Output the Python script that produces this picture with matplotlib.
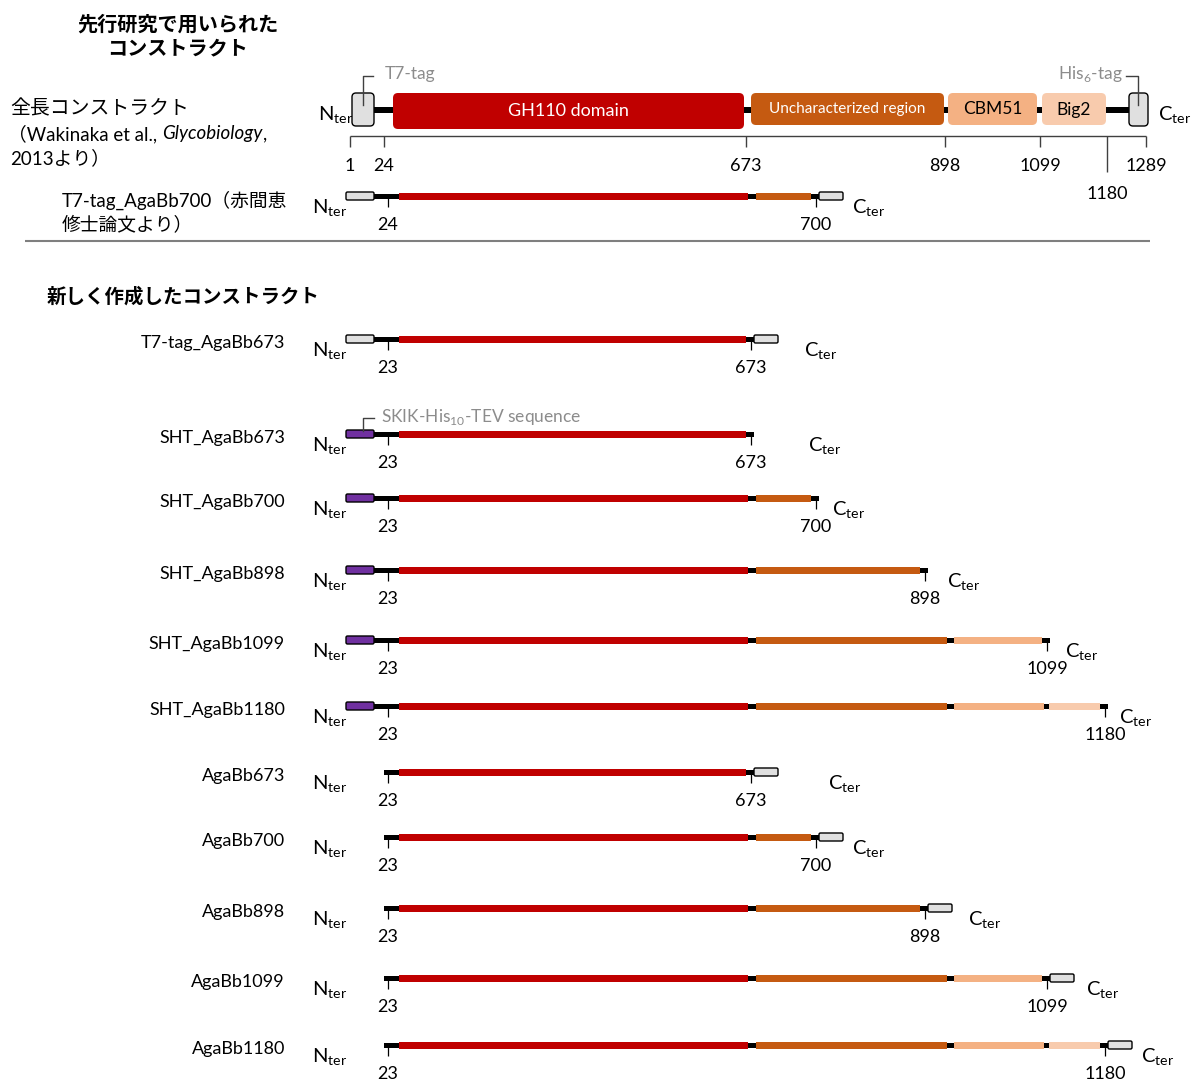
import numpy as np
import matplotlib.pyplot as plt
from matplotlib.patches import FancyBboxPatch

plt.rcParams['font.family'] = ['Lato', 'Noto Sans CJK JP']
plt.rcParams['mathtext.fontset'] = 'custom'
plt.rcParams['mathtext.rm'] = 'Lato'

# ---- data ----
domain_names = ['GH110 domain', 'Uncharacterized region', 'CBM51', 'Big2']
domain_colors = ['#C00000', '#C55A11', '#F4B183', '#F8CBAD']
domain_text_colors = ['white', 'white', 'black', 'black']

full_ticks = [1, 24, 673, 898, 1099, 1180, 1289]

prev_name = 'T7-tag_AgaBb700（赤間恵\n修士論文より）'
prev_start, prev_end = 24, 700

construct_names = ['T7-tag_AgaBb673', 'SHT_AgaBb673', 'SHT_AgaBb700', 'SHT_AgaBb898',
                   'SHT_AgaBb1099', 'SHT_AgaBb1180', 'AgaBb673', 'AgaBb700',
                   'AgaBb898', 'AgaBb1099', 'AgaBb1180']
construct_start = [23] * 11
construct_end = [673, 673, 700, 898, 1099, 1180, 673, 700, 898, 1099, 1180]
construct_ntag = ['T7', 'SHT', 'SHT', 'SHT', 'SHT', 'SHT', None, None, None, None, None]
construct_ctag = [True, False, False, False, False, False, True, True, True, True, True]

# ---- layout (schematic positions, pixels) ----
W, H = 1192, 1082
full_tick_x = [350, 384, 746, 945, 1040, 1107, 1146]
full_domain_x = [(393, 744), (751, 944), (948, 1037), (1042, 1106)]
row_domain_x = [(399, 748), (756, 947), (954, 1044), (1049, 1102)]
res_x = {23: 388, 24: 388, 673: 751, 700: 816, 898: 925, 1099: 1047, 1180: 1105}
row_y = [339, 434, 498, 570, 640, 706, 772, 837, 908, 978, 1045]
cter_x = [804, 808, 832, 947, 1065, 1119, 828, 852, 968, 1086, 1141]
tag_colors = {'T7': '#E0E0E0', 'SHT': '#7030A0'}
GRAY = '#8C8C8C'

fig = plt.figure(figsize=(W / 100, H / 100), dpi=100)
ax = fig.add_axes([0, 0, 1, 1])
ax.set_xlim(0, W)
ax.set_ylim(H, 0)
ax.axis('off')


def rbox(x0, x1, y0, y1, fc, r=4, lw=1.0, ec='black'):
    p = FancyBboxPatch((x0, y0), x1 - x0, y1 - y0,
                       boxstyle='round,pad=0,rounding_size=%g' % r,
                       fc=fc, ec=ec, lw=lw, zorder=3)
    ax.add_patch(p)


def term(x, y, letter):
    ax.text(x, y, letter + r'$_\mathregular{ter}$', fontsize=14.5, va='baseline', ha='left')


def draw_row(y, start, end, ntag, ctag, cx, start_label=None):
    x0 = res_x[start]
    x1 = res_x[end]
    if ntag:
        rbox(346, 374, y - 4, y + 4, tag_colors[ntag], r=1.5, lw=1.0)
        bb0 = 374
    else:
        bb0 = 384
    ax.barh(y, x1 + 3 - bb0, left=bb0, height=5, color='black', zorder=1)
    for (d0, d1), c in zip(row_domain_x, domain_colors):
        d1c = min(d1, x1 - 5)
        if d1c > d0:
            ax.barh(y, d1c - d0, left=d0, height=7, color=c, zorder=2)
    if ctag:
        rbox(x1 + 3, x1 + 27, y - 4, y + 4, '#E0E0E0', r=1.5, lw=1.0)
    for xx, lab in [(x0, start_label or str(start)), (x1, str(end))]:
        ax.vlines(xx, y, y + 11, color='black', lw=0.9, zorder=2)
        ax.text(xx, y + 29, lab, fontsize=13, ha='center', va='center')
    term(312, y + 17.5, 'N')
    term(cx, y + 17.5, 'C')


# ---- titles / left text ----
ax.text(178, 25, '先行研究で用いられた', fontsize=14.5, fontweight='bold', ha='center', va='center')
ax.text(178, 48, 'コンストラクト', fontsize=14.5, fontweight='bold', ha='center', va='center')
ax.text(10, 108, '全長コンストラクト', fontsize=14.3, ha='left', va='center')

r = fig.canvas.get_renderer()
x = 8
for s, st in [('（Wakinaka et al.,', 'normal'), ('Glycobiology', 'italic'), (',', 'normal')]:
    t = ax.text(x, 134, s, fontsize=13.5, style=st, ha='left', va='center')
    x += t.get_window_extent(r).width + (5 if s.endswith(',') and st == 'normal' else 0)
ax.text(10, 158, '2013より）', fontsize=13.5, ha='left', va='center')

ax.text(62, 212, prev_name, fontsize=13.5, ha='left', va='center', linespacing=1.3)
ax.text(47, 296, '新しく作成したコンストラクト', fontsize=14, fontweight='bold', ha='left', va='center')

# ---- full-length construct ----
ax.barh(110, 1129 - 374, left=374, height=6, color='black', zorder=1)
rbox(352, 374, 93, 126, '#E0E0E0', r=4)
rbox(1129, 1148, 93, 126, '#E0E0E0', r=4)
for i, ((d0, d1), c) in enumerate(zip(full_domain_x, domain_colors)):
    y1 = 129 if i == 0 else 125
    rbox(d0, d1, 93, y1, c, r=5, lw=0, ec='none')
    fs = 13 if i == 0 else (11 if i == 1 else 12.5)
    ax.text((d0 + d1) / 2, (93 + y1) / 2 + 0.5, domain_names[i], color=domain_text_colors[i],
            fontsize=fs, ha='center', va='center', zorder=4)
term(318, 121, 'N')
term(1158, 121, 'C')

# tag callouts
ax.plot([363, 363, 373], [105, 76, 76], color='#404040', lw=1, zorder=4)
ax.text(385, 74, 'T7-tag', color=GRAY, fontsize=12.5, ha='left', va='center')
ax.plot([1126, 1138, 1138], [76, 76, 105], color='#404040', lw=1, zorder=4)
ax.text(1123, 74, r'His$_\mathregular{6}$-tag', color=GRAY, fontsize=12.5, ha='right', va='center')

# residue scale
ax.hlines(136, full_tick_x[0], full_tick_x[-1], color='#404040', lw=1)
for res, xx in zip(full_ticks, full_tick_x):
    long = res == 1180
    ax.vlines(xx, 136, 172 if long else 147, color='#404040', lw=1)
    ax.text(xx, 194 if long else 166, str(res), fontsize=13, ha='center', va='center')

# previous construct row
draw_row(196, prev_start, prev_end, 'T7', True, 852)

ax.hlines(241, 25, 1150, color='#7F7F7F', lw=1.5)

# ---- new constructs ----
for i, name in enumerate(construct_names):
    y = row_y[i]
    ax.text(285, y + 9, name, fontsize=13, ha='right', va='baseline')
    draw_row(y, construct_start[i], construct_end[i], construct_ntag[i], construct_ctag[i], cter_x[i])

ax.plot([363, 363, 374], [431, 418, 418], color='#404040', lw=1, zorder=4)
ax.text(381, 417, r'SKIK-His$_\mathregular{10}$-TEV sequence', color=GRAY, fontsize=12.5,
        ha='left', va='center')

fig.savefig('out.png', dpi=100)
